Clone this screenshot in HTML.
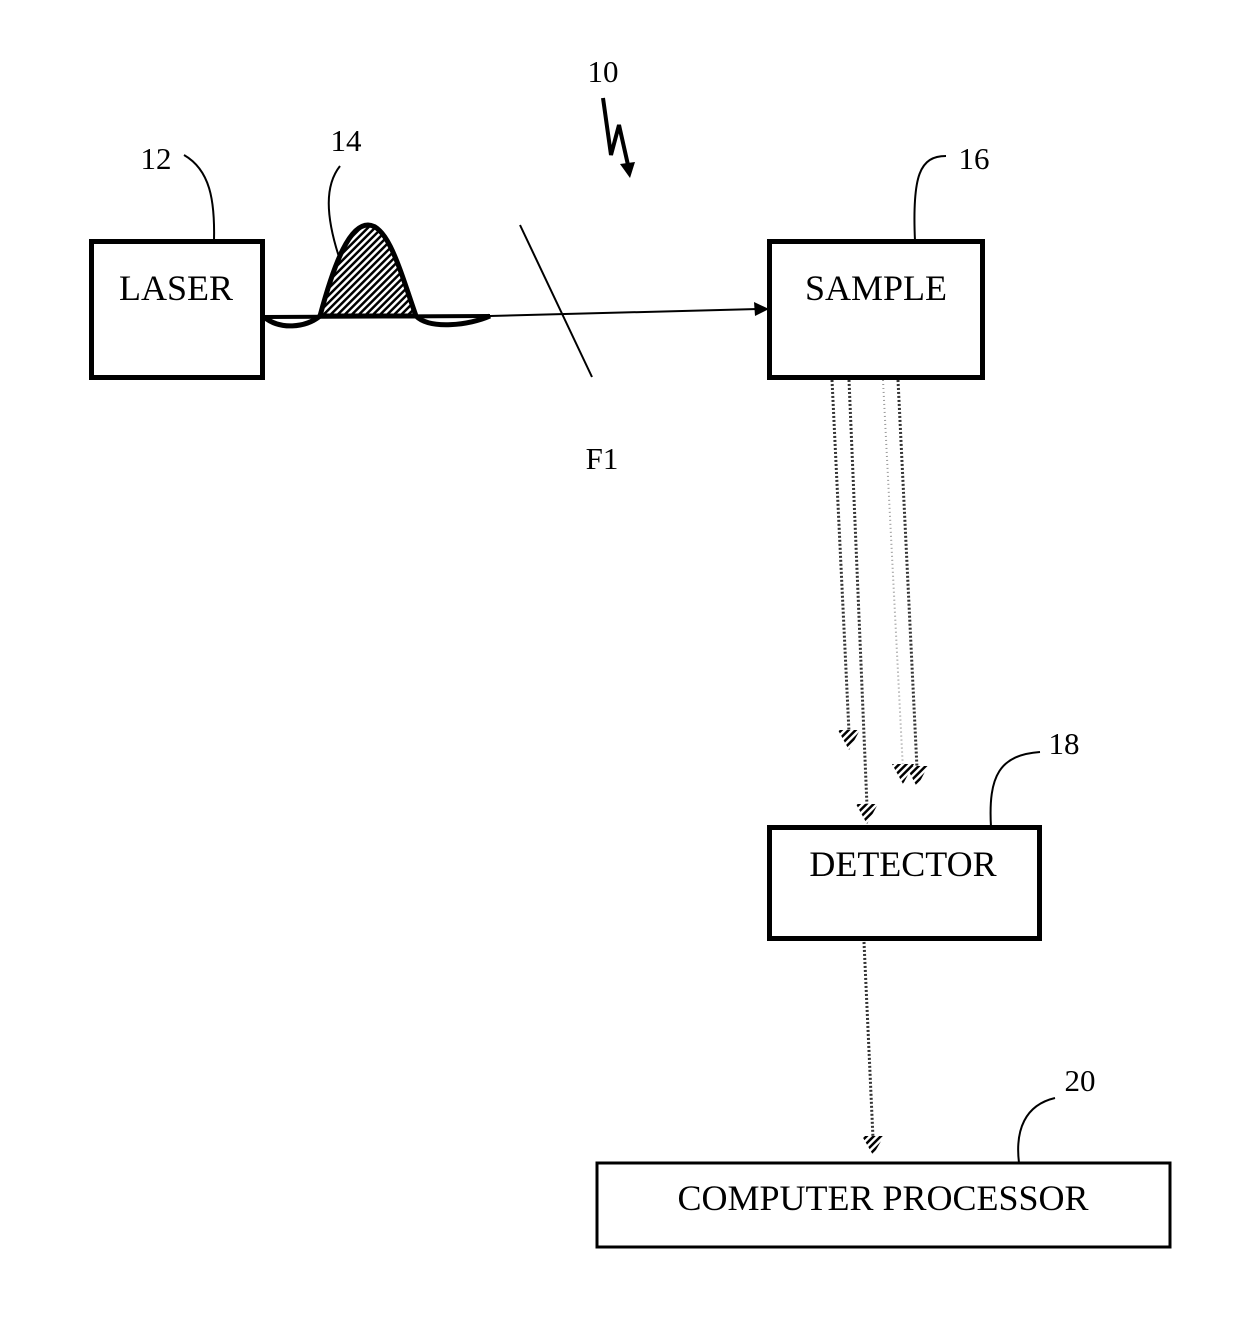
<!DOCTYPE html>
<html><head><style>
html,body{margin:0;padding:0;background:#fff;}
svg{display:block}
text{font-family:"Liberation Serif",serif;fill:#000}
</style></head><body>
<svg width="1240" height="1324" viewBox="0 0 1240 1324" xmlns="http://www.w3.org/2000/svg">
<defs>
<pattern id="h" width="5" height="5" patternUnits="userSpaceOnUse" patternTransform="rotate(45)">
<rect width="5" height="5" fill="#fff"/><rect width="2.5" height="5" fill="#000"/></pattern>
</defs>
<rect x="91.5" y="241.5" width="171" height="136" fill="none" stroke="#000" stroke-width="5"/>
<rect x="769.5" y="241.5" width="213" height="136" fill="none" stroke="#000" stroke-width="5"/>
<rect x="769.5" y="827.5" width="270" height="111" fill="none" stroke="#000" stroke-width="5"/>
<rect x="597" y="1163" width="573" height="84" fill="none" stroke="#000" stroke-width="3"/>
<text x="176" y="300" font-size="36" text-anchor="middle">LASER</text>
<text x="876" y="300" font-size="36" text-anchor="middle">SAMPLE</text>
<text x="903" y="876" font-size="36" text-anchor="middle">DETECTOR</text>
<text x="883" y="1210" font-size="36" text-anchor="middle">COMPUTER PROCESSOR</text>
<text x="603" y="82" font-size="31" text-anchor="middle">10</text>
<text x="156" y="169" font-size="31" text-anchor="middle">12</text>
<text x="346" y="151" font-size="31" text-anchor="middle">14</text>
<text x="974" y="169" font-size="31" text-anchor="middle">16</text>
<text x="1064" y="754" font-size="31" text-anchor="middle">18</text>
<text x="1080" y="1091" font-size="31" text-anchor="middle">20</text>
<text x="602" y="469" font-size="31" text-anchor="middle">F1</text>
<path d="M184 155 C210 170 215 200 214 241" fill="none" stroke="#000" stroke-width="2"/>
<path d="M340 166 C325 185 325 215 340 260" fill="none" stroke="#000" stroke-width="2"/>
<path d="M946 156 C920 156 912 175 915 241" fill="none" stroke="#000" stroke-width="2"/>
<path d="M1040 752 C1000 755 988 775 991 827" fill="none" stroke="#000" stroke-width="2"/>
<path d="M1055 1098 C1025 1105 1015 1130 1019 1163" fill="none" stroke="#000" stroke-width="2"/>
<path d="M603 98 L611 155 L619 125 L628 165" fill="none" stroke="#000" stroke-width="4"/>
<polygon points="620,164 635,162 630,178" fill="#000"/>
<path d="M320 316 C335 260 350 225 368 225 C388 225 400 270 416 316 Z" fill="url(#h)" stroke="#000" stroke-width="5"/>
<path d="M264 317 C280 330 305 328 320 316 M416 316 C430 330 470 325 490 316" fill="none" stroke="#000" stroke-width="5"/>
<line x1="264" y1="317" x2="490" y2="316" stroke="#000" stroke-width="4"/>
<line x1="490" y1="316" x2="758" y2="309" stroke="#000" stroke-width="2"/>
<polygon points="769,309 754,302 755,316" fill="#000"/>
<line x1="520" y1="225" x2="592" y2="377" stroke="#000" stroke-width="2"/>
<g stroke="#333" stroke-width="3" stroke-dasharray="2 2" fill="none">
<line x1="832" y1="380" x2="849" y2="732"/>
<line x1="849" y1="380" x2="867" y2="806"/>
<line x1="898" y1="380" x2="917" y2="768"/>
<line x1="864" y1="942" x2="873" y2="1138"/>
</g>
<line x1="883" y1="380" x2="903" y2="770" stroke="#999" stroke-width="2" stroke-dasharray="1 3"/>
<g fill="url(#h)">
<polygon points="838,730 860,730 849,750"/>
<polygon points="856,804 878,804 867,824"/>
<polygon points="892,764 914,764 903,784"/>
<polygon points="906,766 928,766 917,787"/>
<polygon points="862,1136 884,1136 873,1155"/>
</g>
</svg>
</body></html>
